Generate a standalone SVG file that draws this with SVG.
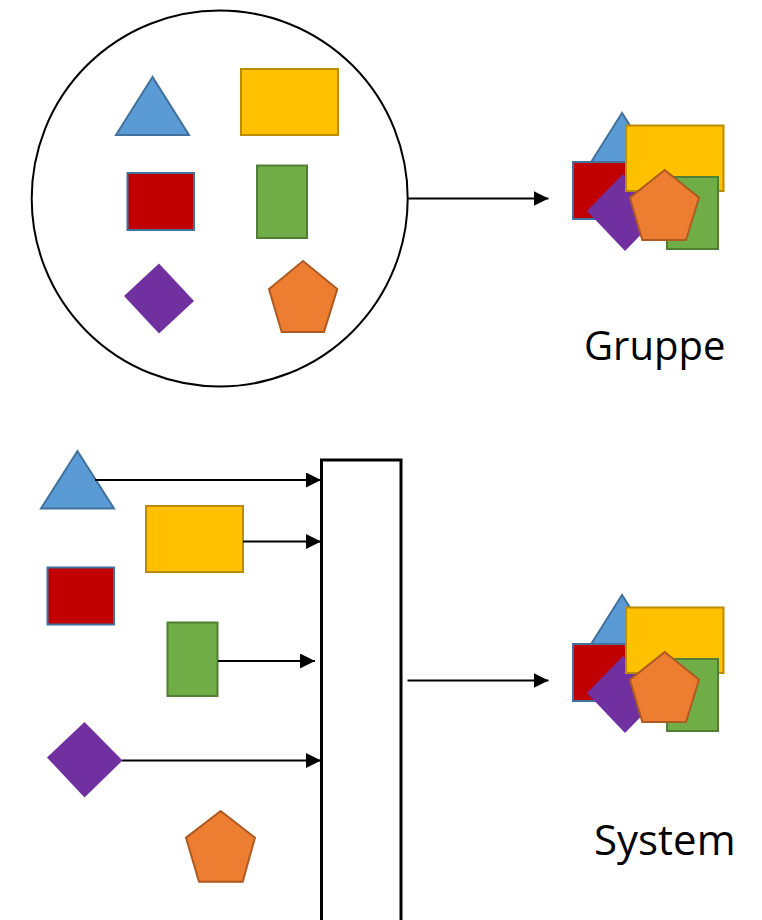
<svg xmlns="http://www.w3.org/2000/svg" width="762" height="920" viewBox="0 0 762 920">
<style>
.tri{fill:#5B9BD5;stroke:#41719C;stroke-width:2}
.yel{fill:#FFC000;stroke:#BC8C00;stroke-width:2}
.red{fill:#C00000;stroke:#41719C;stroke-width:2}
.grn{fill:#70AD47;stroke:#507E32;stroke-width:2}
.pur{fill:#7030A0;stroke:none}
.ora{fill:#ED7D31;stroke:#AE5A21;stroke-width:2}
.conn{fill:none;stroke:#000;stroke-width:2}
.lbl{font-family:"Open Sans","Liberation Sans",sans-serif;fill:#000}
</style>
<defs>
<marker id="arr" markerUnits="userSpaceOnUse" markerWidth="16" markerHeight="16" refX="15" refY="7.5" orient="auto">
<path d="M0,0 L15,7.5 L0,15 Z" fill="#000"/>
</marker>
<g id="combo">
<polygon class="tri" points="622,113 585.5,171 658.5,171"/>
<rect class="red" x="573" y="162" width="66" height="57"/>
<polygon class="pur" points="587,211 623,174 661,214 625,251"/>
<rect class="yel" x="626" y="125.5" width="97.5" height="65.5"/>
<rect class="grn" x="667" y="177" width="51" height="72"/>
<polygon class="ora" points="664.7,170 699,197.7 686,240 642.3,240 630,197.7"/>
</g>
</defs>

<g id="group-circle">
<circle cx="219.7" cy="198.5" r="188" fill="#fff" stroke="#000" stroke-width="2"/>
</g>
<g id="g-triangle"><polygon class="tri" points="152.5,77 116,135 189,135"/></g>
<g id="g-yellow"><rect class="yel" x="241" y="69" width="97" height="66"/></g>
<g id="g-red"><rect class="red" x="127.5" y="173" width="66.5" height="57"/></g>
<g id="g-green"><rect class="grn" x="257" y="165.5" width="50" height="72.5"/></g>
<g id="g-diamond"><polygon class="pur" points="124,296 159,263.5 194,301 159,333.5"/></g>
<g id="g-pentagon"><polygon class="ora" points="303,261 337.3,289 324,332 281.7,332 269,289"/></g>

<g id="group-result"><use href="#combo"/></g>
<g id="label-gruppe"><text class="lbl" x="584" y="360" font-size="40">Gruppe</text></g>

<g id="s-triangle"><polygon class="tri" points="77.5,451 41,508.5 114,508.5"/></g>
<g id="s-yellow"><rect class="yel" x="146" y="506" width="97" height="66"/></g>
<g id="s-red"><rect class="red" x="47.5" y="567.5" width="66.5" height="57"/></g>
<g id="s-green"><rect class="grn" x="167.5" y="622.5" width="50" height="73.5"/></g>
<g id="s-diamond"><polygon class="pur" points="47,757.5 84.5,722 122.5,760.5 84.5,797.5"/></g>
<g id="s-pentagon"><polygon class="ora" points="220.7,811 255,837.7 242.7,881.7 199,881.7 186,837.7"/></g>

<g id="system-box"><rect x="321.5" y="460" width="79.5" height="500" fill="#fff" stroke="#000" stroke-width="3"/></g>

<g id="system-result"><use href="#combo" transform="translate(0,482)"/></g>
<g id="label-system"><text class="lbl" x="594" y="855" font-size="42">System</text></g>

<g id="connectors">
<line class="conn" x1="408" y1="198.5" x2="548.5" y2="198.5" marker-end="url(#arr)"/>
<line class="conn" x1="95" y1="480" x2="321" y2="480" marker-end="url(#arr)"/>
<line class="conn" x1="243" y1="541.5" x2="321" y2="541.5" marker-end="url(#arr)"/>
<line class="conn" x1="218" y1="661" x2="315" y2="661" marker-end="url(#arr)"/>
<line class="conn" x1="122" y1="760.5" x2="321" y2="760.5" marker-end="url(#arr)"/>
<line class="conn" x1="407.5" y1="680.5" x2="548.5" y2="680.5" marker-end="url(#arr)"/>
</g>
</svg>
